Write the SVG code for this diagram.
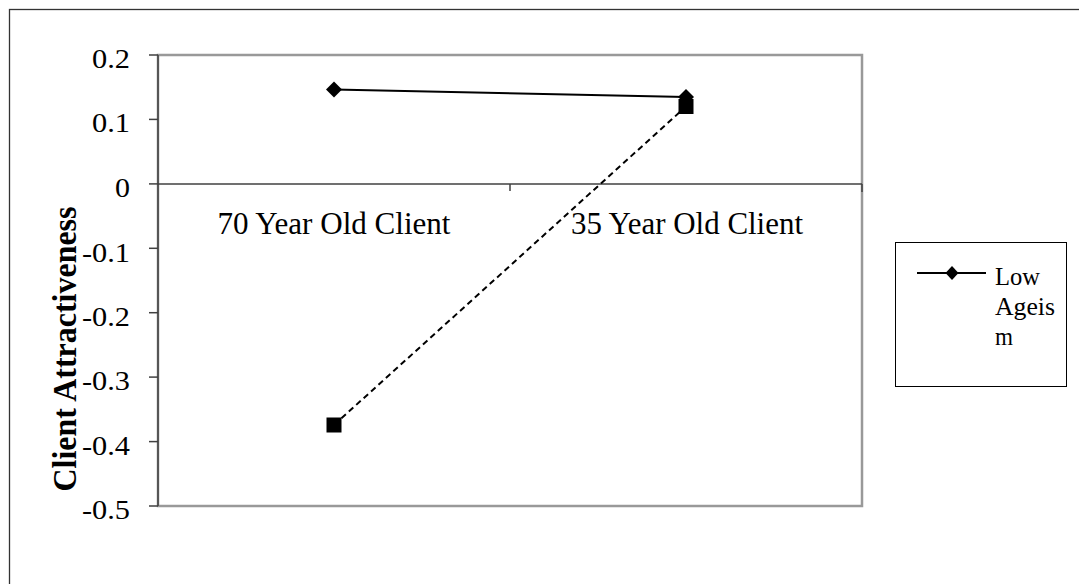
<svg xmlns="http://www.w3.org/2000/svg" width="1079" height="584" viewBox="0 0 1079 584">
<style>
  .t { font-family: "Liberation Serif", "Times New Roman", serif; fill: #000; }
  .ytick { font-size: 28px; text-anchor: end; }
  .cat { font-size: 31px; text-anchor: middle; }
  .title { font-size: 33px; font-weight: bold; text-anchor: middle; }
  .leg { font-size: 26px; }
  .axis { stroke: #404040; stroke-width: 1.5; fill: none; }
  .s1 { stroke: #000; stroke-width: 2; fill: none; }
  .s2 { stroke: #000; stroke-width: 2; fill: none; stroke-dasharray: 6 4; }
</style>
<defs>
  <path id="diamond" d="M0,-8 L8,0 L0,8 L-8,0 Z" fill="#000"/>
  <rect id="square" x="-7.5" y="-7.5" width="15" height="15" fill="#000"/>
</defs>
<rect width="1079" height="584" fill="#fff"/>
<g id="chart-border">
  <rect x="9.5" y="9.5" width="1080" height="590" fill="none" stroke="#333" stroke-width="1.3"/>
</g>
<g id="plot-area">
  <rect x="158" y="55" width="704" height="451" fill="#fff" stroke="#999" stroke-width="2.5"/>
</g>
<g id="axes">
  <line class="axis" x1="158" y1="55" x2="158" y2="506"/>
  <line class="axis" x1="149" y1="55" x2="158" y2="55"/>
  <line class="axis" x1="149" y1="119.4" x2="158" y2="119.4"/>
  <line class="axis" x1="149" y1="183.9" x2="158" y2="183.9"/>
  <line class="axis" x1="149" y1="248.3" x2="158" y2="248.3"/>
  <line class="axis" x1="149" y1="312.7" x2="158" y2="312.7"/>
  <line class="axis" x1="149" y1="377.1" x2="158" y2="377.1"/>
  <line class="axis" x1="149" y1="441.6" x2="158" y2="441.6"/>
  <line class="axis" x1="149" y1="506" x2="158" y2="506"/>
  <line class="axis" x1="158" y1="183.9" x2="862" y2="183.9"/>
  <line class="axis" x1="510" y1="183.9" x2="510" y2="191"/>
  <line class="axis" x1="862" y1="183.9" x2="862" y2="192"/>
</g>
<g id="y-labels" class="t ytick">
  <text x="130" y="68" textLength="38" lengthAdjust="spacingAndGlyphs">0.2</text>
  <text x="130" y="132" textLength="38" lengthAdjust="spacingAndGlyphs">0.1</text>
  <text x="130" y="197" textLength="15" lengthAdjust="spacingAndGlyphs">0</text>
  <text x="130" y="262" textLength="48" lengthAdjust="spacingAndGlyphs">-0.1</text>
  <text x="130" y="326" textLength="48" lengthAdjust="spacingAndGlyphs">-0.2</text>
  <text x="130" y="390" textLength="48" lengthAdjust="spacingAndGlyphs">-0.3</text>
  <text x="130" y="455" textLength="48" lengthAdjust="spacingAndGlyphs">-0.4</text>
  <text x="130" y="519" textLength="48" lengthAdjust="spacingAndGlyphs">-0.5</text>
</g>
<g id="y-title">
  <text class="t title" transform="translate(76,349) rotate(-90)" textLength="285" lengthAdjust="spacingAndGlyphs">Client Attractiveness</text>
</g>
<g id="category-labels" class="t cat">
  <text x="334" y="234" textLength="233" lengthAdjust="spacingAndGlyphs">70 Year Old Client</text>
  <text x="687" y="234" textLength="232" lengthAdjust="spacingAndGlyphs">35 Year Old Client</text>
</g>
<g id="connectors">
  <line id="series-low" class="s1" x1="334" y1="89.5" x2="686" y2="97"/>
  <line id="series-high" class="s2" x1="334" y1="425" x2="686" y2="106.5"/>
</g>
<g id="markers-low">
  <use href="#diamond" x="334" y="89.5"/>
  <use href="#diamond" x="686" y="97"/>
</g>
<g id="markers-high">
  <use href="#square" x="334" y="425"/>
  <use href="#square" x="686" y="106.5"/>
</g>
<g id="legend">
  <rect x="895.5" y="242.5" width="171" height="144" fill="#fff" stroke="#000" stroke-width="1"/>
  <line class="s1" x1="917" y1="273" x2="986" y2="273"/>
  <path d="M952,266 L958.5,273 L952,280 L945.5,273 Z" fill="#000"/>
  <text class="t leg" x="995" y="285" textLength="45" lengthAdjust="spacingAndGlyphs">Low</text>
  <text class="t leg" x="995" y="315" textLength="60" lengthAdjust="spacingAndGlyphs">Ageis</text>
  <text class="t leg" x="995" y="345" textLength="18" lengthAdjust="spacingAndGlyphs">m</text>
</g>
</svg>
